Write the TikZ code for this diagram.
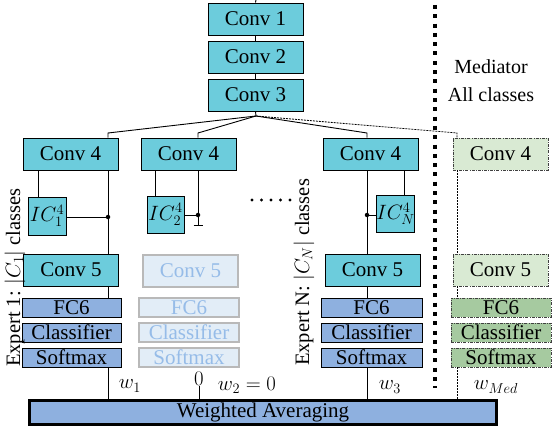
\documentclass[tikz,border=0pt]{standalone}
\usepackage{fontspec}
\setmainfont{Liberation Serif}
\usetikzlibrary{calc}
\definecolor{convc}{RGB}{108,204,220}
\definecolor{fcc}{RGB}{142,176,223}
\definecolor{fadefill}{RGB}{226,237,247}
\definecolor{fadedraw}{RGB}{185,185,185}
\definecolor{fadetext}{RGB}{150,188,232}
\definecolor{medlight}{RGB}{217,234,211}
\definecolor{meddark}{RGB}{166,202,160}
\begin{document}
\begin{tikzpicture}[x=1pt,y=-1pt,
  every node/.style={font=\fontsize{21}{24}\selectfont},
  box/.style={draw, line width=0.9pt, inner sep=0pt, minimum width=95pt, minimum height=32pt},
  convbox/.style={box, fill=convc},
  fcbox/.style={box, fill=fcc, minimum height=19pt},
  fadeconv/.style={box, fill=fadefill, draw=fadedraw, text=fadetext, line width=1.5pt},
  fadefc/.style={fadeconv, minimum height=19pt},
  medconv/.style={box, fill=medlight, draw=black!75, dash pattern=on 3pt off 1.2pt on 0.8pt off 1.2pt},
  medfc/.style={medconv, fill=meddark, minimum height=19pt},
  icbox/.style={box, fill=convc, minimum width=37pt, minimum height=37pt, font=\fontsize{20}{24}\selectfont},
  link/.style={line width=0.9pt},
  medlink/.style={line width=0.8pt, dash pattern=on 2pt off 1pt},
  dot/.style={circle, fill=black, inner sep=0pt, minimum size=4.5pt},
  lbl/.style={inner sep=0pt}
]
\useasboundingbox (0,0) rectangle (552,428);
% column x helpers
\coordinate (xa) at (108,0);
\coordinate (xai) at (38,0);
\coordinate (xb) at (198,0);
\coordinate (xbi) at (155,0);
\coordinate (xc) at (367,0);
\coordinate (xci) at (404,0);
\coordinate (xm) at (457,0);
% trunk
\node[convbox] (c1) at (255.5,19) {Conv 1};
\node[convbox] (c2) at (255.5,57) {Conv 2};
\node[convbox] (c3) at (255.5,95) {Conv 3};
\coordinate (top) at (256,0);
\draw[link] (top) -- (c1.north);
\draw[link] (c1) -- (c2);
\draw[link] (c2) -- (c3);
\coordinate (sp) at (256,116);
\draw[link] (c3.south) -- (sp);
% conv4
\node[convbox] (c4a) at (70.5,154) {Conv 4};
\node[convbox] (c4b) at (188.5,154) {Conv 4};
\node[convbox] (c4c) at (370.5,154) {Conv 4};
\node[medconv] (c4m) at (500.5,154) {Conv 4};
\coordinate (ja) at (108,133);
\coordinate (jb) at (198,133);
\coordinate (jc) at (367,133);
\coordinate (jm) at (457,133);
\draw[link] (sp) -- (ja) -- (ja |- c4a.north);
\draw[link] (sp) -- (jb) -- (jb |- c4b.north);
\draw[link] (sp) -- (jc) -- (jc |- c4c.north);
\draw[medlink] (sp) -- (jm) -- (jm |- c4m.north);
% IC boxes
\node[icbox, minimum width=38pt, minimum height=38pt] (ica) at (47,216) {$IC^4_1$};
\node[icbox] (icb) at (165.5,214.5) {$IC^4_2$};
\node[icbox] (icc) at (395.5,214) {$IC^4_N$};
% conv5
\node[convbox] (c5a) at (71,270) {Conv 5};
\node[fadeconv] (c5b) at (190.5,271) {Conv 5};
\node[convbox] (c5c) at (372.5,270) {Conv 5};
\node[medconv] (c5m) at (500.5,270) {Conv 5};
% IC links
\draw[link] (xai |- ica.north) -- (xai |- c4a.south);
\draw[link] (xa |- c4a.south) -- (xa |- c5a.north);
\node[dot] (da) at (108,217) {};
\draw[link] (ica.east |- da) -- (da);
\draw[link] (xbi |- icb.north) -- (xbi |- c4b.south);
\coordinate (gb) at (198,225);
\draw[link] (xb |- c4b.south) -- (gb);
\draw[link] ($(gb)+(-4.5,0)$) -- ($(gb)+(4.5,0)$);
\node[dot] (db) at (198,215) {};
\draw[link] (icb.east |- db) -- (db);
\draw[link] (xci |- icc.north) -- (xci |- c4c.south);
\draw[link] (xc |- c4c.south) -- (xc |- c5c.north);
\node[dot] (dc) at (367,215) {};
\draw[link] (dc) -- (icc.west |- dc);
\draw[medlink] (xm |- c4m.south) -- (xm |- c5m.north);
% dots
\foreach \i in {0,...,4} \fill (252+9.5*\i,200) circle (1.6pt);
% FC stacks
\node[fcbox, minimum width=99pt] (fa) at (71.5,307.5) {FC6};
\node[fcbox, minimum width=99pt] (cla) at (71.5,332.5) {Classifier};
\node[fcbox, minimum width=99pt] (sa) at (71.5,357.5) {Softmax};
\node[fadefc, minimum width=100pt] (fb) at (189,307.5) {FC6};
\node[fadefc, minimum width=100pt] (clb) at (189,332.5) {Classifier};
\node[fadefc, minimum width=100pt] (sb) at (189,357.5) {Softmax};
\node[fcbox, minimum width=101pt] (fc) at (371.5,307.5) {FC6};
\node[fcbox, minimum width=101pt] (clc) at (371.5,332.5) {Classifier};
\node[fcbox, minimum width=101pt] (sc) at (371.5,357.5) {Softmax};
\node[medfc, minimum width=100pt] (fm) at (501,307.5) {FC6};
\node[medfc, minimum width=100pt] (clm) at (501,332.5) {Classifier};
\node[medfc, minimum width=100pt] (sm) at (501,357.5) {Softmax};
\draw[link] (xa |- c5a.south) -- (xa |- fa.north);
\draw[link] (xc |- c5c.south) -- (xc |- fc.north);
\draw[medlink] (xm |- c5m.south) -- (xm |- fm.north);
% weighted averaging
\node[box, fill=fcc, line width=3pt, minimum width=467pt, minimum height=24pt] (wa) at (263,412.5) {Weighted Averaging};
\draw[link] (xa |- sa.south) -- (xa |- wa.north);
\draw[link] (xc |- sc.south) -- (xc |- wa.north);
\draw[medlink] (xm |- sm.south) -- (xm |- wa.north);
\node[lbl] (zero) at (199,379) {$0$};
\draw[link] (zero.south) -- (zero.south |- wa.north);
\node[lbl] at (130,386) {$w_1$};
\node[lbl] at (247,385) {$w_2=0$};
\node[lbl] at (390,387) {$w_3$};
\node[lbl] at (496,387) {$w_{Med}$};
% side labels
\node[lbl, rotate=90, anchor=west, font=\fontsize{20.5}{24}\selectfont] at (15,367) {Expert 1: $|C_1|$ classes};
\node[lbl, rotate=90, anchor=west, font=\fontsize{20.5}{24}\selectfont] at (304,366) {Expert N: $|C_N|$ classes};
% mediator
\coordinate (vt) at (435,5);
\coordinate (vb) at (435,388);
\draw[line width=3.5pt, dash pattern=on 4pt off 5.3pt] (vt) -- (vb);
\node[lbl, align=center, font=\fontsize{20}{28}\selectfont] (med) at (491,81) {Mediator\\All classes};
\end{tikzpicture}
\end{document}
